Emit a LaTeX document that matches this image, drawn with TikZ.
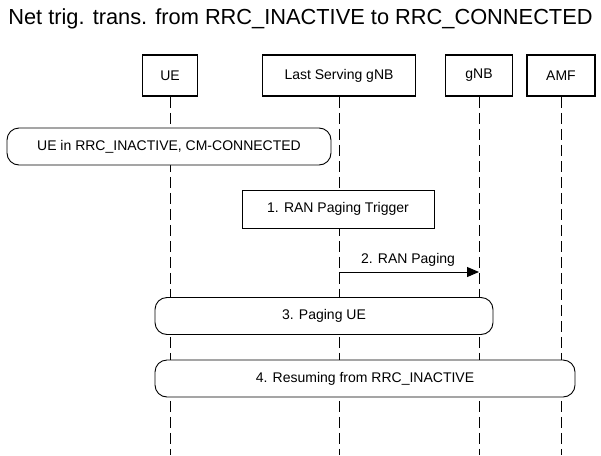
\documentclass[tikz,border=0pt]{standalone}
\usepackage{fontspec}
\setmainfont{Liberation Sans}
\usetikzlibrary{arrows.meta}

\begin{document}
\begin{tikzpicture}[x=1pt,y=-1pt,
		every node/.style={inner sep=0pt,font=\fontsize{14}{16}\selectfont},
		actor/.style={draw,line width=1.8pt,fill=white,minimum height=41pt},
		life/.style={line width=1pt,dash pattern=on 11pt off 5pt},
		step box/.style={draw,line width=0.9pt,fill=white,minimum height=38pt},
		phase/.style={draw,line width=0.9pt,fill=white,rounded corners=12pt,minimum height=37pt},
		msg/.style={line width=1pt,-{Triangle[length=12pt,width=10pt]}}]
		\useasboundingbox (0,0) rectangle (601,455);
		\node (title) at (300.5,19) {\fontsize{21.8}{24}\selectfont Net trig. trans. from RRC\_INACTIVE to RRC\_CONNECTED};
		\node [actor,minimum width=55pt] (ue) at (170,75.5) {UE};
		\node [actor,minimum width=153pt] (ls) at (339,75.5) {Last Serving gNB};
		\node [actor,minimum width=67pt] (gnb) at (479,75.5) {gNB};
		\node [actor,minimum width=68pt] (amf) at (561,75.5) {AMF};
		\coordinate (bottom) at (0,455);
		\foreach \p in {ue,ls,gnb,amf}
			\draw [life] (\p.south) -- (\p.south |- bottom);
		\node [phase,minimum width=324pt] (inactive) at (169,146.5) {UE in RRC\_INACTIVE, CM-CONNECTED};
		\node [step box,minimum width=192pt] (trigger) at (338,209) {1. RAN Paging Trigger};
		\coordinate (m2) at (0,272);
		\draw [msg] (ls.south |- m2) -- node [above=5pt,xshift=-1pt] {2. RAN Paging} (gnb.south |- m2);
		\node [phase,minimum width=338pt] (paging) at (324,316) {3. Paging UE};
		\node [phase,minimum width=420pt] (resume) at (365,378.5) {4. Resuming from RRC\_INACTIVE};
	\end{tikzpicture}
\end{document}
